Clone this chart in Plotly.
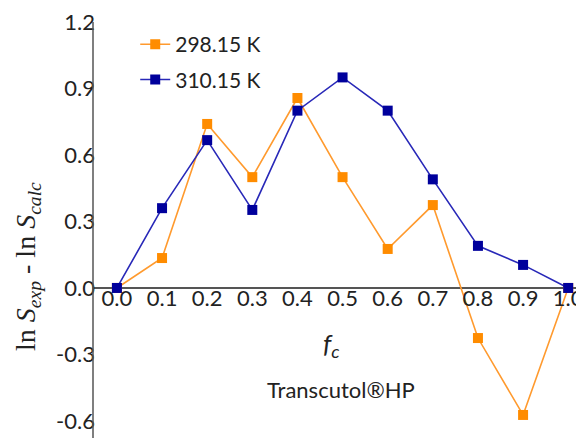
import plotly.graph_objects as go

fc = [0.0, 0.1, 0.2, 0.3, 0.4, 0.5, 0.6, 0.7, 0.8, 0.9, 1.0]
s298 = [0.0, 0.135, 0.74, 0.50, 0.857, 0.50, 0.176, 0.374, -0.226, -0.573, 0.0]
s310 = [0.0, 0.36, 0.667, 0.352, 0.80, 0.95, 0.80, 0.49, 0.19, 0.104, 0.0]
x_ticks = [0.0, 0.1, 0.2, 0.3, 0.4, 0.5, 0.6, 0.7, 0.8, 0.9, 1.0]
y_ticks = [-0.6, -0.3, 0.0, 0.3, 0.6, 0.9, 1.2]

FONT = "Lato"
TXT = "#222222"
AX = "#555555"
ymin, ymax = -0.677, 1.2
xmin, xmax = -0.053, 1.035

fig = go.Figure()
fig.add_trace(go.Scatter(
    x=fc, y=s298, mode="lines+markers", name="298.15 K", legendgroup="a",
    line=dict(color="#FF9A2E", width=1.6),
    marker=dict(symbol="square", size=10, color="#FF8C00"),
))
fig.add_trace(go.Scatter(
    x=fc, y=s310, mode="lines+markers", name="310.15 K", legendgroup="b",
    line=dict(color="#2828B8", width=1.6),
    marker=dict(symbol="square", size=10, color="#00009C"),
))

fig.update_layout(
    width=576, height=430,
    margin=dict(l=85, r=0, t=14, b=0),
    paper_bgcolor="white", plot_bgcolor="white",
    font=dict(family=FONT, size=21, color=TXT),
    showlegend=True,
    legend=dict(x=0.086, y=0.995, xanchor="left", yanchor="top",
                font=dict(family=FONT, size=21, color=TXT),
                tracegroupgap=5, bgcolor="rgba(0,0,0,0)"),
    xaxis=dict(range=[xmin, xmax], tickvals=x_ticks,
               ticktext=[f"{v:.1f}" for v in x_ticks],
               showgrid=False, zeroline=False, showline=False,
               ticks="", ticklen=0, ticklabeloverflow="allow",
               anchor="free", position=(0 - ymin) / (ymax - ymin) + 5 / 416,
               tickfont=dict(family=FONT, size=22, color=TXT)),
    yaxis=dict(range=[ymin, ymax], tickvals=y_ticks,
               ticktext=[f"{v:.1f}" for v in y_ticks],
               showgrid=False, zeroline=True, zerolinecolor=AX, zerolinewidth=1.5,
               showline=False, ticks="", ticklen=0, ticklabeloverflow="allow",
               anchor="free", position=2 / 491,
               domain=[0, 1],
               tickfont=dict(family=FONT, size=22, color=TXT)),
    shapes=[dict(type="line", xref="paper", yref="paper", x0=0, x1=0, y0=0, y1=1,
                 line=dict(color=AX, width=1.5))],
    annotations=[
        dict(text="ln <i>S</i><sub><i>exp</i></sub> - ln <i>S</i><sub><i>calc</i></sub>",
             xref="paper", yref="y", x=-0.172, y=0.095, textangle=-90,
             showarrow=False, font=dict(family="Liberation Serif", size=28, color=TXT)),
        dict(text="<i>f</i><sub><i>c</i></sub>", xref="paper", yref="y",
             x=0.485, y=-0.257, showarrow=False,
             font=dict(family=FONT, size=26, color=TXT)),
        dict(text="Transcutol®HP", xref="paper", yref="y",
             x=0.505, y=-0.46, showarrow=False,
             font=dict(family=FONT, size=22, color=TXT)),
    ],
)

fig.write_html("out.html")
